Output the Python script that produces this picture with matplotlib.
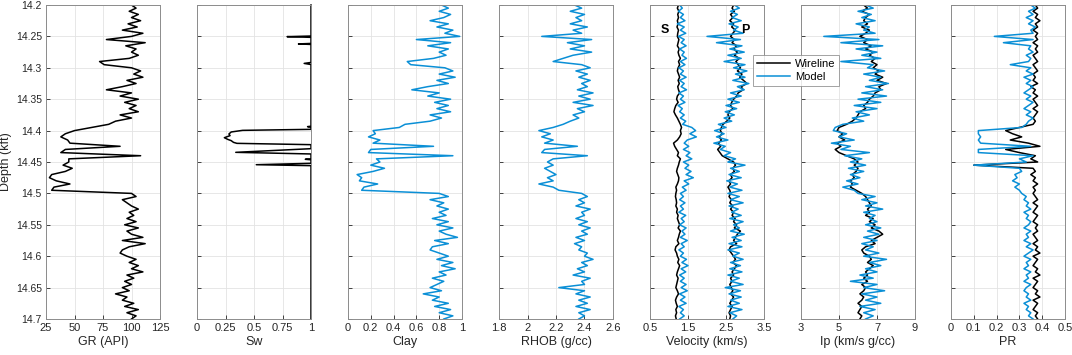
import numpy as np
import matplotlib
matplotlib.use("Agg")
import matplotlib.pyplot as plt
from matplotlib.lines import Line2D

plt.rcParams['font.family'] = ['Liberation Sans', 'DejaVu Sans']

# ---------------- data ----------------
depth = np.round(np.arange(14.2, 14.7001, 0.005), 4)  # kft, 101 samples

gr = [100, 104, 98, 106, 100, 108, 97, 105, 92, 110,
      100, 78, 112, 95, 104, 100, 106, 98, 72, 76,
      100, 108, 102, 110, 96, 104, 92, 78, 100, 90,
      106, 94, 104, 98, 106, 90, 100, 86, 80, 65,
      50, 42, 38, 44, 46, 90, 42, 38, 108, 45,
      45, 40, 48, 42, 30, 28, 34, 46, 32, 30,
      100, 104, 92, 96, 100, 106, 98, 102, 96, 104,
      94, 106, 96, 100, 110, 92, 112, 98, 92, 90,
      96, 104, 98, 106, 100, 110, 96, 102, 94, 100,
      92, 98, 86, 96, 92, 102, 94, 106, 96, 104, 100]

sw_depth = [14.2, 14.2494, 14.2504, 14.2515, 14.2612, 14.262, 14.2628, 14.2915, 14.293, 14.2948,
            14.3930, 14.3937, 14.3945, 14.398, 14.3996, 14.4022, 14.4054, 14.408, 14.4113, 14.414,
            14.416, 14.4187, 14.4203, 14.4224, 14.4288, 14.4346, 14.4372, 14.4450, 14.4457, 14.4465,
            14.4521, 14.4543, 14.4558, 14.7]
sw = [1.0, 1.0, 0.79, 1.0, 1.0, 0.89, 1.0, 1.0, 0.94, 1.0,
      1.0, 0.97, 1.0, 1.0, 0.40, 0.30, 0.28, 0.29, 0.24, 0.27,
      0.30, 0.32, 0.35, 1.0, 1.0, 0.34, 1.0, 1.0, 0.95, 1.0,
      1.0, 0.52, 1.0, 1.0]

clay = [0.82, 0.88, 0.80, 0.90, 0.84, 0.72, 0.88, 0.78, 0.92, 0.85,
        0.98, 0.60, 0.90, 0.70, 0.88, 0.80, 0.86, 0.75, 0.52, 0.55,
        0.85, 0.92, 0.80, 0.94, 0.78, 0.88, 0.70, 0.56, 0.80, 0.70,
        0.90, 0.76, 0.88, 0.78, 0.90, 0.72, 0.82, 0.72, 0.50, 0.45,
        0.22, 0.24, 0.18, 0.28, 0.22, 0.75, 0.20, 0.18, 0.92, 0.25,
        0.28, 0.20, 0.32, 0.22, 0.08, 0.12, 0.10, 0.26, 0.14, 0.12,
        0.80, 0.88, 0.72, 0.84, 0.78, 0.88, 0.80, 0.86, 0.74, 0.88,
        0.78, 0.92, 0.80, 0.86, 0.96, 0.76, 0.88, 0.74, 0.72, 0.80,
        0.88, 0.78, 0.92, 0.82, 0.94, 0.80, 0.86, 0.74, 0.84, 0.78,
        0.72, 0.82, 0.66, 0.80, 0.74, 0.88, 0.76, 0.90, 0.80, 0.92, 0.84]

rhob = [2.33, 2.38, 2.30, 2.40, 2.34, 2.38, 2.30, 2.42, 2.32, 2.38,
        2.10, 2.45, 2.28, 2.40, 2.30, 2.45, 2.32, 2.25, 2.18, 2.38,
        2.44, 2.34, 2.42, 2.36, 2.44, 2.38, 2.42, 2.35, 2.46, 2.36,
        2.44, 2.32, 2.46, 2.35, 2.40, 2.32, 2.36, 2.30, 2.25, 2.18,
        2.08, 2.16, 2.10, 2.18, 2.12, 2.35, 2.12, 2.10, 2.42, 2.18,
        2.14, 2.18, 2.12, 2.16, 2.20, 2.14, 2.18, 2.08, 2.18, 2.22,
        2.38, 2.42, 2.36, 2.40, 2.34, 2.44, 2.38, 2.40, 2.34, 2.42,
        2.36, 2.44, 2.38, 2.42, 2.34, 2.40, 2.33, 2.38, 2.36, 2.42,
        2.40, 2.46, 2.38, 2.42, 2.35, 2.40, 2.32, 2.44, 2.38, 2.40,
        2.22, 2.40, 2.34, 2.44, 2.36, 2.42, 2.34, 2.44, 2.36, 2.40, 2.36]

vs_wire = [1.25, 1.22, 1.26, 1.23, 1.25, 1.22, 1.24, 1.21, 1.25, 1.23,
           1.22, 1.26, 1.24, 1.22, 1.27, 1.24, 1.26, 1.30, 1.25, 1.28,
           1.24, 1.22, 1.25, 1.28, 1.24, 1.27, 1.23, 1.25, 1.28, 1.22,
           1.20, 1.24, 1.18, 1.15, 1.13, 1.17, 1.22, 1.26, 1.30, 1.33,
           1.30, 1.32, 1.28, 1.22, 1.12, 1.15, 1.20, 1.25, 1.22, 1.30,
           1.27, 1.25, 1.22, 1.20, 1.23, 1.26, 1.25, 1.22, 1.18, 1.20,
           1.18, 1.17, 1.19, 1.20, 1.18, 1.22, 1.20, 1.24, 1.22, 1.25,
           1.28, 1.24, 1.30, 1.27, 1.25, 1.22, 1.26, 1.18, 1.16, 1.20,
           1.22, 1.26, 1.23, 1.28, 1.25, 1.22, 1.20, 1.24, 1.22, 1.20,
           1.18, 1.22, 1.25, 1.20, 1.17, 1.19, 1.22, 1.18, 1.20, 1.17, 1.19]

vs_model = [1.28, 1.35, 1.25, 1.38, 1.30, 1.42, 1.22, 1.40, 1.30, 1.44,
            1.25, 1.40, 1.32, 1.45, 1.28, 1.40, 1.34, 1.46, 1.30, 1.42,
            1.26, 1.38, 1.30, 1.45, 1.28, 1.40, 1.32, 1.46, 1.26, 1.38,
            1.30, 1.42, 1.24, 1.35, 1.28, 1.40, 1.30, 1.44, 1.36, 1.60,
            1.70, 1.55, 1.72, 1.48, 1.40, 1.52, 1.38, 1.55, 1.45, 1.60,
            1.38, 1.52, 1.42, 1.58, 1.45, 1.64, 1.40, 1.52, 1.35, 1.45,
            1.30, 1.38, 1.28, 1.42, 1.30, 1.38, 1.26, 1.44, 1.32, 1.40,
            1.28, 1.45, 1.34, 1.42, 1.30, 1.48, 1.32, 1.40, 1.26, 1.38,
            1.30, 1.46, 1.34, 1.50, 1.32, 1.44, 1.28, 1.40, 1.30, 1.45,
            1.32, 1.48, 1.28, 1.42, 1.30, 1.45, 1.26, 1.38, 1.30, 1.40, 1.28]

vp_wire = [2.70, 2.66, 2.72, 2.62, 2.68, 2.60, 2.70, 2.65, 2.75, 2.68,
           2.62, 2.72, 2.66, 2.78, 2.70, 2.80, 2.72, 2.85, 2.76, 2.82,
           2.88, 2.80, 2.92, 2.86, 2.96, 3.05, 2.90, 2.95, 2.82, 2.78,
           2.70, 2.65, 2.62, 2.68, 2.58, 2.55, 2.60, 2.52, 2.42, 2.38,
           2.35, 2.40, 2.32, 2.38, 2.30, 2.36, 2.28, 2.34, 2.40, 2.55,
           2.70, 2.75, 2.68, 2.72, 2.62, 2.66, 2.58, 2.62, 2.55, 2.60,
           2.62, 2.58, 2.64, 2.60, 2.68, 2.62, 2.70, 2.66, 2.74, 2.70,
           2.78, 2.72, 2.88, 2.80, 2.75, 2.70, 2.78, 2.62, 2.58, 2.64,
           2.70, 2.75, 2.68, 2.78, 2.72, 2.66, 2.70, 2.62, 2.66, 2.60,
           2.64, 2.68, 2.62, 2.70, 2.65, 2.60, 2.66, 2.62, 2.58, 2.62, 2.60]

vp_model = [2.72, 2.85, 2.62, 2.80, 2.66, 2.90, 2.58, 2.82, 2.70, 2.95,
            2.00, 2.88, 2.25, 2.92, 2.60, 2.98, 2.55, 2.90, 2.45, 3.00,
            2.70, 3.05, 2.75, 3.00, 2.68, 3.10, 2.80, 2.98, 2.62, 2.90,
            2.55, 2.85, 2.50, 2.78, 2.48, 2.72, 2.45, 2.65, 2.30, 2.50,
            2.20, 2.45, 2.25, 2.55, 2.18, 2.48, 2.35, 2.62, 2.45, 2.75,
            2.55, 3.00, 2.62, 2.85, 2.58, 2.90, 2.52, 2.80, 2.60, 2.92,
            2.55, 2.85, 2.62, 2.95, 2.58, 2.82, 2.65, 2.90, 2.60, 2.95,
            2.70, 2.85, 2.62, 2.98, 2.66, 2.90, 2.58, 2.92, 2.55, 2.85,
            2.68, 2.95, 2.62, 2.88, 2.60, 2.92, 2.55, 2.85, 2.62, 2.95,
            2.48, 2.88, 2.58, 2.90, 2.62, 2.85, 2.55, 2.92, 2.60, 2.78, 2.68]

ip_wire = [6.3, 6.5, 6.2, 6.6, 6.4, 6.3, 6.5, 6.2, 6.6, 6.4,
           6.1, 6.5, 6.3, 6.7, 6.4, 6.8, 6.6, 6.9, 6.7, 7.0,
           6.8, 7.1, 6.9, 7.3, 7.0, 7.5, 7.1, 7.2, 6.9, 6.8,
           6.6, 6.5, 6.3, 6.4, 6.1, 6.0, 5.9, 5.7, 5.4, 5.0,
           4.9, 5.2, 5.0, 5.3, 4.9, 5.1, 4.8, 5.0, 5.4, 5.8,
           6.0, 5.8, 6.0, 5.9, 5.7, 5.8, 5.6, 5.7, 5.6, 5.9,
           6.2, 6.4, 6.5, 6.6, 6.7, 6.5, 6.6, 6.4, 6.8, 6.6,
           6.9, 6.7, 7.1, 7.3, 7.0, 6.7, 6.9, 6.4, 6.2, 6.3,
           6.6, 6.7, 6.5, 6.8, 6.6, 6.4, 6.5, 6.3, 6.5, 6.2,
           6.4, 6.3, 6.1, 6.3, 6.2, 6.0, 6.2, 6.1, 6.0, 6.2, 6.1]

ip_model = [6.4, 6.8, 6.0, 6.7, 6.2, 6.9, 5.9, 6.6, 6.3, 6.9,
            4.2, 7.1, 5.1, 7.3, 5.9, 7.0, 6.2, 7.2, 5.1, 6.8,
            6.5, 7.4, 6.3, 7.2, 6.6, 7.6, 6.4, 7.3, 6.2, 7.5,
            6.0, 7.2, 5.8, 7.0, 5.9, 6.6, 5.7, 6.3, 5.2, 4.8,
            4.7, 5.4, 5.0, 5.8, 4.6, 5.6, 5.1, 6.6, 5.3, 6.2,
            5.6, 6.4, 5.5, 6.3, 5.6, 6.1, 5.4, 6.0, 5.2, 5.8,
            6.0, 6.9, 6.2, 7.0, 6.4, 7.3, 6.3, 6.9, 6.6, 7.0,
            6.4, 7.2, 6.5, 7.1, 6.3, 7.0, 6.2, 6.8, 6.4, 7.1,
            6.3, 7.5, 6.6, 7.2, 6.4, 7.0, 6.1, 6.8, 5.6, 7.0,
            6.3, 7.4, 6.2, 7.0, 6.4, 7.2, 6.1, 6.9, 6.3, 6.8, 6.4]

pr_wire = [0.37, 0.38, 0.36, 0.38, 0.37, 0.39, 0.37, 0.38, 0.36, 0.38,
           0.37, 0.38, 0.36, 0.38, 0.37, 0.38, 0.36, 0.37, 0.38, 0.36,
           0.37, 0.38, 0.36, 0.37, 0.36, 0.38, 0.35, 0.37, 0.36, 0.38,
           0.36, 0.37, 0.38, 0.36, 0.38, 0.37, 0.36, 0.37, 0.36, 0.30,
           0.24, 0.27, 0.31, 0.26, 0.34, 0.39, 0.24, 0.30, 0.37, 0.35,
           0.38, 0.10, 0.36, 0.37, 0.35, 0.37, 0.36, 0.38, 0.36, 0.37,
           0.36, 0.37, 0.38, 0.36, 0.38, 0.37, 0.36, 0.38, 0.37, 0.36,
           0.38, 0.37, 0.38, 0.36, 0.37, 0.38, 0.36, 0.38, 0.37, 0.39,
           0.36, 0.38, 0.37, 0.36, 0.38, 0.37, 0.39, 0.36, 0.38, 0.37,
           0.36, 0.38, 0.37, 0.39, 0.36, 0.38, 0.37, 0.36, 0.38, 0.37, 0.38]

pr_model = [0.35, 0.37, 0.34, 0.36, 0.33, 0.36, 0.34, 0.37, 0.35, 0.36,
            0.19, 0.36, 0.23, 0.35, 0.34, 0.36, 0.33, 0.35, 0.34, 0.26,
            0.35, 0.33, 0.36, 0.32, 0.35, 0.33, 0.36, 0.34, 0.32, 0.35,
            0.33, 0.36, 0.34, 0.32, 0.35, 0.33, 0.36, 0.34, 0.33, 0.31,
            0.12, 0.12, 0.13, 0.12, 0.13, 0.35, 0.12, 0.12, 0.36, 0.30,
            0.33, 0.10, 0.30, 0.31, 0.28, 0.29, 0.27, 0.30, 0.28, 0.30,
            0.31, 0.33, 0.32, 0.34, 0.33, 0.35, 0.32, 0.34, 0.33, 0.35,
            0.34, 0.32, 0.35, 0.33, 0.34, 0.32, 0.35, 0.33, 0.36, 0.34,
            0.32, 0.35, 0.33, 0.34, 0.32, 0.35, 0.33, 0.34, 0.32, 0.35,
            0.33, 0.32, 0.34, 0.33, 0.35, 0.32, 0.34, 0.33, 0.35, 0.34, 0.36]

depth_ticks = [14.2, 14.25, 14.3, 14.35, 14.4, 14.45, 14.5, 14.55, 14.6, 14.65, 14.7]
depth_labels = ['14.2', '14.25', '14.3', '14.35', '14.4', '14.45', '14.5', '14.55', '14.6', '14.65', '14.7']

panel_xlabels = ['GR (API)', 'Sw', 'Clay', 'RHOB (g/cc)', 'Velocity (km/s)', 'Ip (km/s g/cc)', 'PR']
panel_xticks = [[25, 50, 75, 100, 125],
                [0, 0.25, 0.5, 0.75, 1],
                [0, 0.2, 0.4, 0.6, 0.8, 1],
                [1.8, 2, 2.2, 2.4, 2.6],
                [0.5, 1.5, 2.5, 3.5],
                [3, 5, 7, 9],
                [0, 0.1, 0.2, 0.3, 0.4, 0.5]]
panel_xticklabels = [['25', '50', '75', '100', '125'],
                     ['0', '0.25', '0.5', '0.75', '1'],
                     ['0', '0.2', '0.4', '0.6', '0.8', '1'],
                     ['1.8', '2', '2.2', '2.4', '2.6'],
                     ['0.5', '1.5', '2.5', '3.5'],
                     ['3', '5', '7', '9'],
                     ['0', '0.1', '0.2', '0.3', '0.4', '0.5']]

legend_labels = ['Wireline', 'Model']

# ---------------- style ----------------
BLUE = '#0a8fd6'
BLACK = '#000000'
LW = 1.1

W, H = 1072, 355
fig = plt.figure(figsize=(W / 100, H / 100), dpi=100)

lefts_px = [46, 197, 348, 499, 650, 801, 951]
width_px = 114
top_px, bottom_px = 5, 319

axes = []
for i, lp in enumerate(lefts_px):
    ax = fig.add_axes([lp / W, 1 - bottom_px / H, width_px / W, (bottom_px - top_px) / H])
    ax.set_ylim(14.7, 14.2)
    ax.set_xlim(panel_xticks[i][0], panel_xticks[i][-1])
    ax.set_xticks(panel_xticks[i])
    ax.set_xticklabels(panel_xticklabels[i])
    ax.set_yticks(depth_ticks)
    if i == 0:
        ax.set_yticklabels(depth_labels)
        ax.set_ylabel('Depth (kft)', fontsize=9, color='#262626')
        ax.yaxis.set_label_coords(-0.30, 0.5)
    else:
        ax.set_yticklabels([])
    ax.set_xlabel(panel_xlabels[i], fontsize=9, color='#262626', labelpad=2)
    ax.grid(True, color='#e3e3e3', linewidth=0.6)
    ax.set_axisbelow(True)
    ax.tick_params(axis='x', labelsize=8)
    ax.tick_params(axis='y', labelsize=7.5)
    ax.tick_params(direction='in', length=3, width=0.6, colors='#262626',
                   pad=3, top=False, right=False)
    for s in ax.spines.values():
        s.set_color('#8c8c8c')
        s.set_linewidth(0.7)
    axes.append(ax)

axes[0].plot(gr, depth, color=BLACK, lw=LW)
axes[1].plot(sw, sw_depth, color=BLACK, lw=LW, clip_on=False)
axes[2].plot(clay, depth, color=BLUE, lw=LW)
axes[3].plot(rhob, depth, color=BLUE, lw=LW)

axes[4].plot(vs_wire, depth, color=BLACK, lw=LW)
axes[4].plot(vs_model, depth, color=BLUE, lw=LW)
axes[4].plot(vp_wire, depth, color=BLACK, lw=LW)
axes[4].plot(vp_model, depth, color=BLUE, lw=LW)
axes[4].text(0.9, 14.24, 'S', fontsize=9, fontweight='bold', ha='center', va='center')
axes[4].text(3.0, 14.24, 'P', fontsize=9, fontweight='bold', ha='center', va='center')

axes[5].plot(ip_wire, depth, color=BLACK, lw=LW)
axes[5].plot(ip_model, depth, color=BLUE, lw=LW)

axes[6].plot(pr_wire, depth, color=BLACK, lw=LW)
axes[6].plot(pr_model, depth, color=BLUE, lw=LW)

handles = [Line2D([], [], color=BLACK, lw=LW), Line2D([], [], color=BLUE, lw=LW)]
leg = fig.legend(handles, legend_labels, loc='upper left',
                 bbox_to_anchor=(753 / W, 1 - 55 / H), fontsize=8,
                 frameon=True, fancybox=False, handlelength=3.0, handletextpad=0.4,
                 borderpad=0.35, labelspacing=0.25, borderaxespad=0.0)
leg.get_frame().set_edgecolor('#8c8c8c')
leg.get_frame().set_linewidth(0.7)
leg.set_zorder(10)

fig.savefig('out.png', dpi=100)
